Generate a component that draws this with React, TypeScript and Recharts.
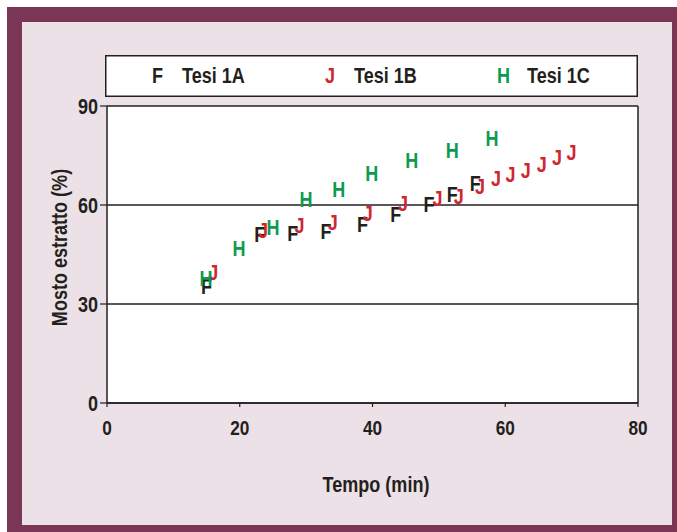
import React from 'react';
import {
  ScatterChart,
  Scatter,
  XAxis,
  YAxis,
  CartesianGrid,
  ReferenceLine,
  Legend,
} from 'recharts';

const tempoA = [15, 23, 28, 33, 38.5, 43.5, 48.5, 52, 55.5];
const mostoA = [35.6, 51.1, 51.4, 52.0, 54.1, 57.4, 60.4, 63.4, 66.8];

const tempoB = [16, 23.5, 29, 34, 39.3, 44.6, 49.8, 53, 56.2, 58.6, 60.8, 63.1, 65.5, 67.8, 70];
const mostoB = [39.6, 52.3, 53.8, 54.7, 57.7, 60.7, 62.2, 62.8, 65.9, 68.3, 69.5, 70.7, 72.5, 74.6, 76.1];

const tempoC = [14.9, 19.9, 25, 30, 34.9, 39.9, 45.9, 52, 58];
const mostoC = [37.8, 47.1, 53.2, 61.9, 65.0, 69.8, 73.7, 76.7, 80.4];

const xTicks = [0, 20, 40, 60, 80];
const yTicks = [0, 30, 60, 90];

const seriesNames = ['Tesi 1A', 'Tesi 1B', 'Tesi 1C'];
const seriesGlyphs = ['F', 'J', 'H'];
const seriesColors = ['#231f20', '#d0262f', '#0e9a50'];

const toPoints = (xs: number[], ys: number[]) => xs.map((x, i) => ({ x, y: ys[i] }));
const dataA = toPoints(tempoA, mostoA);
const dataB = toPoints(tempoB, mostoB);
const dataC = toPoints(tempoC, mostoC);

const FONT = '"Liberation Sans", Arial, sans-serif';
const INK = '#231f20';
const NARROW = 0.82;

type NTProps = {
  x: number;
  y: number;
  anchor?: 'start' | 'middle' | 'end';
  size?: number;
  color?: string;
  rotate?: number;
  children: React.ReactNode;
};

const NarrowText = ({ x, y, anchor = 'middle', size = 22, color = INK, rotate = 0, children }: NTProps) => (
  <text
    x={0}
    y={0}
    transform={`translate(${x} ${y}) rotate(${rotate}) scale(${NARROW} 1)`}
    textAnchor={anchor}
    fontFamily={FONT}
    fontWeight="bold"
    fontSize={size}
    fill={color}
  >
    {children}
  </text>
);

const glyphShape = (glyph: string, color: string) => (props: any) => {
  const { cx, cy } = props;
  if (cx == null || cy == null) return <g />;
  return (
    <NarrowText x={cx} y={cy + 8} color={color}>
      {glyph}
    </NarrowText>
  );
};

const XTick = (props: any) => {
  const { x, y, payload } = props;
  return (
    <NarrowText x={x} y={y + 26} size={21}>
      {payload.value}
    </NarrowText>
  );
};

const YTick = (props: any) => {
  const { x, y, payload } = props;
  return (
    <NarrowText x={x} y={y + 8} anchor="end" size={22}>
      {payload.value}
    </NarrowText>
  );
};

const legendGlyphX = [52.5, 225, 398.5];
const legendTextX = [77, 249, 422];

const renderLegend = () => (
  <svg width={533} height={42} style={{ display: 'block' }}>
    <rect x={0.75} y={0.75} width={531.5} height={40.5} fill="#ffffff" stroke={INK} strokeWidth={1.5} />
    {seriesNames.map((name, i) => (
      <g key={name}>
        <NarrowText x={legendGlyphX[i]} y={28} color={seriesColors[i]}>
          {seriesGlyphs[i]}
        </NarrowText>
        <NarrowText x={legendTextX[i]} y={28} anchor="start">
          {name}
        </NarrowText>
      </g>
    ))}
  </svg>
);

const XLabel = (props: any) => {
  const vb = props.viewBox || {};
  return (
    <NarrowText x={vb.x + vb.width / 2 + 3.5} y={vb.y + 89}>
      Tempo (min)
    </NarrowText>
  );
};

const YLabel = (props: any) => {
  const vb = props.viewBox || {};
  return (
    <NarrowText x={67} y={vb.y + vb.height / 2 - 7} rotate={-90}>
      Mosto estratto (%)
    </NarrowText>
  );
};

export default function App() {
  return (
    <div style={{ position: 'absolute', left: 0, top: 0, width: 677, height: 532, background: '#ffffff' }}>
      <div style={{ position: 'absolute', left: 7, top: 7, width: 670, height: 525, background: '#7a3654' }} />
      <div style={{ position: 'absolute', left: 22, top: 22, width: 650, height: 503, background: '#ece1e6' }} />
      <div style={{ position: 'absolute', left: 0, top: 0 }}>
        <ScatterChart width={677} height={532} margin={{ top: 106, right: 39, bottom: 99, left: 47 }}>
          <CartesianGrid
            vertical={false}
            horizontal={true}
            stroke={INK}
            strokeWidth={1.5}
            fill="#ffffff"
            fillOpacity={1}
          />
          <XAxis
            type="number"
            dataKey="x"
            domain={[0, 80]}
            ticks={xTicks}
            height={30}
            tickSize={4}
            tickMargin={2}
            axisLine={{ stroke: INK, strokeWidth: 1.5 }}
            tickLine={{ stroke: INK, strokeWidth: 1.2 }}
            tick={<XTick />}
            label={<XLabel />}
          />
          <YAxis
            type="number"
            dataKey="y"
            domain={[0, 90]}
            ticks={yTicks}
            width={60}
            tickSize={7}
            tickMargin={2}
            axisLine={{ stroke: INK, strokeWidth: 1.5 }}
            tickLine={{ stroke: INK, strokeWidth: 1.2 }}
            tick={<YTick />}
            label={<YLabel />}
          />
          <ReferenceLine x={80} stroke={INK} strokeWidth={1.5} />
          <Legend
            layout="horizontal"
            verticalAlign="middle"
            align="center"
            wrapperStyle={{ left: 105, top: 55, width: 533, height: 42 }}
            content={renderLegend}
          />
          <Scatter name={seriesNames[0]} data={dataA} isAnimationActive={false} shape={glyphShape(seriesGlyphs[0], seriesColors[0])} />
          <Scatter name={seriesNames[1]} data={dataB} isAnimationActive={false} shape={glyphShape(seriesGlyphs[1], seriesColors[1])} />
          <Scatter name={seriesNames[2]} data={dataC} isAnimationActive={false} shape={glyphShape(seriesGlyphs[2], seriesColors[2])} />
        </ScatterChart>
      </div>
    </div>
  );
}
